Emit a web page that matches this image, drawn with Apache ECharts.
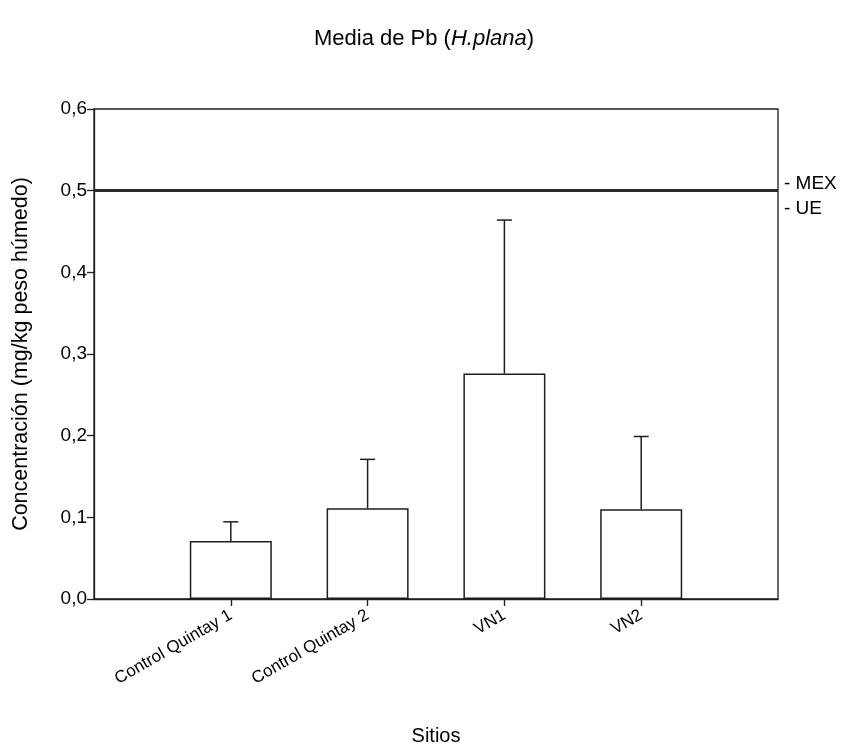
<!DOCTYPE html>
<html>
<head>
<meta charset="utf-8">
<script src="https://cdn.jsdelivr.net/npm/echarts@6/dist/echarts.min.js"></script>
<style>
  html, body { margin: 0; padding: 0; background: #fff; }
  #chart { width: 848px; height: 751px; }
</style>
</head>
<body>
<div id="chart"></div>
<script>
// Sampling sites (blank slots at both ends give the padding around the bars)
const sites = ['Control Quintay 1', 'Control Quintay 2', 'VN1', 'VN2'];
// Mean Pb concentration (mg/kg wet weight)
const meanPb = [0.071, 0.111, 0.276, 0.110];
// Upper end of the error bar (mean + SD)
const upperPb = [0.0945, 0.171, 0.464, 0.199];
// Regulatory limit line
const limitPb = 0.5;
const limitLabels = ['- MEX', '- UE'];
const yTicks = [0, 0.1, 0.2, 0.3, 0.4, 0.5, 0.6];

const axisCats = [''].concat(sites, ['']);
const barData = [null].concat(meanPb, [null]);
const errData = sites.map((s, i) => [i + 1, meanPb[i], upperPb[i]]);

const ink = '#1e1e1e';
const font = 'Liberation Sans, Arial, sans-serif';

const chart = echarts.init(document.getElementById('chart'), null, { renderer: 'canvas' });

chart.setOption({
  backgroundColor: '#fff',
  animation: false,
  title: {
    text: '{n|Media de Pb (}{i|H.plana}{n|)}',
    left: 'center',
    top: 23,
    textStyle: {
      rich: {
        n: { fontFamily: font, fontSize: 22, fontWeight: 'normal', color: '#000' },
        i: { fontFamily: font, fontSize: 22, fontWeight: 'normal', color: '#000', fontStyle: 'italic' }
      }
    }
  },
  grid: {
    left: 94, right: 70, top: 109, bottom: 148,
    show: true, borderColor: ink, borderWidth: 1.3, backgroundColor: 'transparent'
  },
  xAxis: {
    type: 'category',
    data: axisCats,
    boundaryGap: false,
    name: 'Sitios',
    nameLocation: 'middle',
    nameGap: 127,
    nameTextStyle: { fontFamily: font, fontSize: 20, color: '#000' },
    axisLine: { lineStyle: { color: ink, width: 1.3 } },
    axisTick: {
      length: 7,
      interval: (i) => i > 0 && i < axisCats.length - 1,
      lineStyle: { color: ink, width: 1.3 }
    },
    axisLabel: {
      rotate: 30,
      margin: 15,
      fontFamily: font,
      fontSize: 17,
      color: '#000',
      interval: 0
    },
    splitLine: { show: false }
  },
  yAxis: {
    type: 'value',
    min: yTicks[0],
    max: yTicks[yTicks.length - 1],
    interval: 0.1,
    name: 'Concentración (mg/kg peso húmedo)',
    nameLocation: 'middle',
    nameGap: 62,
    nameTextStyle: { fontFamily: font, fontSize: 21.5, color: '#000' },
    axisLine: { show: true, lineStyle: { color: ink, width: 1.3 } },
    axisTick: { show: true, length: 7, lineStyle: { color: ink, width: 1.3 } },
    axisLabel: {
      margin: 7,
      fontFamily: font,
      fontSize: 19,
      color: '#000',
      formatter: (v) => v.toFixed(1).replace('.', ',')
    },
    splitLine: { show: false }
  },
  series: [
    {
      type: 'bar',
      data: barData,
      barWidth: 82,
      itemStyle: { color: '#fff', borderColor: ink, borderWidth: 1.5 },
      silent: true,
      markLine: {
        silent: true,
        symbol: 'none',
        lineStyle: { color: '#2a2a2a', width: 2.8, type: 'solid' },
        label: {
          position: 'end',
          distance: 6,
          formatter: limitLabels.join('\n'),
          fontFamily: font,
          fontSize: 19,
          lineHeight: 25,
          color: '#000',
          offset: [0, 6]
        },
        data: [{ yAxis: limitPb }]
      },
      z: 2
    },
    {
      type: 'custom',
      data: errData,
      encode: { x: 0, y: [1, 2] },
      silent: true,
      z: 1,
      renderItem: function (params, api) {
        const x = api.value(0);
        const base = api.coord([x, api.value(1)]);
        const top = api.coord([x, api.value(2)]);
        const half = 7.5;
        const style = { stroke: ink, lineWidth: 1.5, fill: null };
        return {
          type: 'group',
          children: [
            { type: 'line', shape: { x1: base[0], y1: base[1], x2: top[0], y2: top[1] }, style: style },
            { type: 'line', shape: { x1: top[0] - half, y1: top[1], x2: top[0] + half, y2: top[1] }, style: style }
          ]
        };
      }
    }
  ]
});
</script>
</body>
</html>
